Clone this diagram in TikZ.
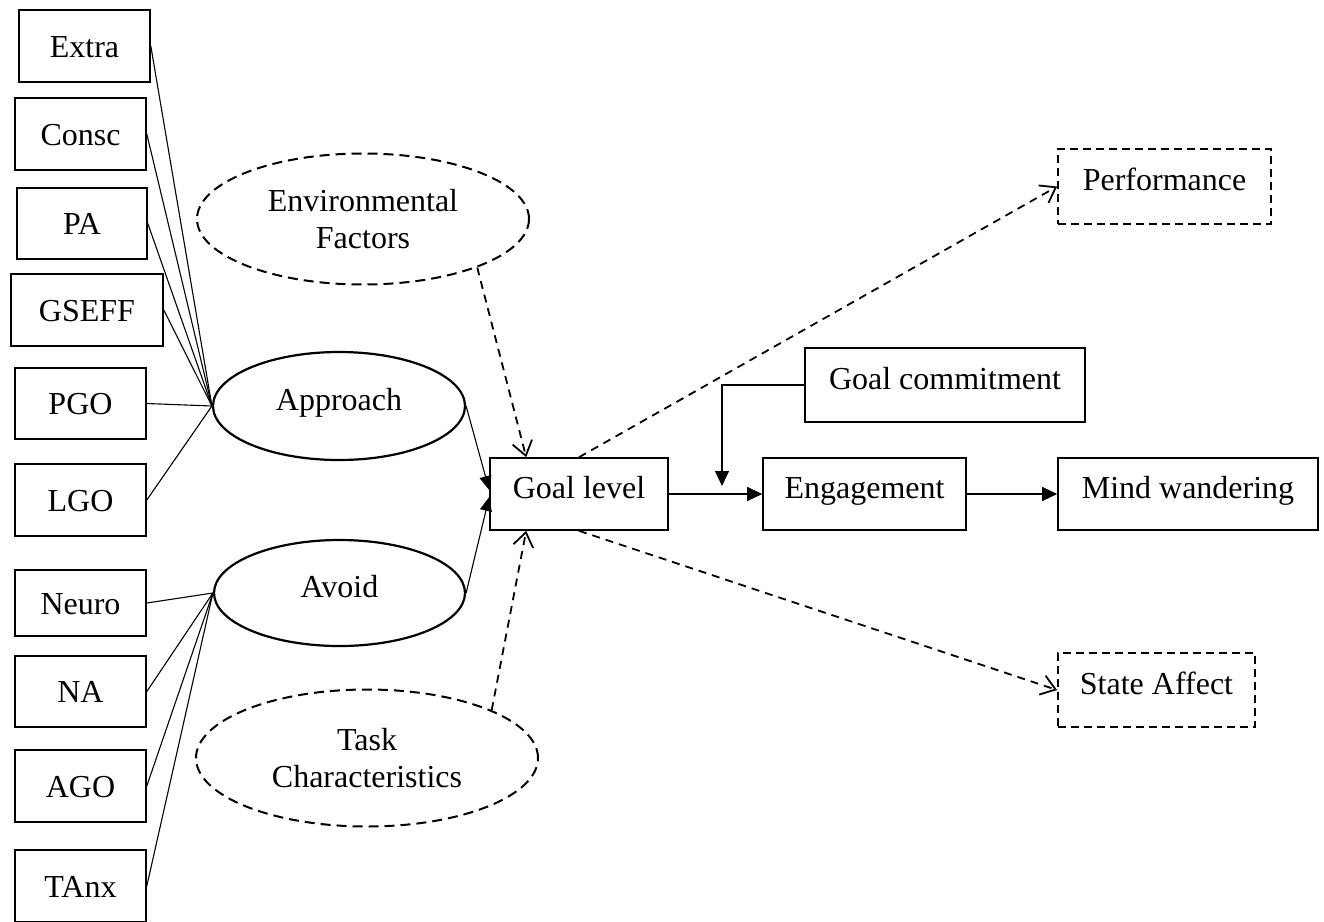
\documentclass[tikz,border=0pt]{standalone}
\usepackage{fontspec}
\setmainfont{Liberation Serif}
\usetikzlibrary{arrows.meta,shapes.geometric}
\begin{document}
\begin{tikzpicture}[x=1pt,y=-1pt,
  font=\fontsize{32}{37}\selectfont,
  box/.style={draw,line width=1.6pt,inner sep=0pt,text height=26pt,text depth=4pt},
  rbox/.style={draw,line width=1.6pt,inner sep=0pt,text height=18pt,text depth=10pt},
  dbox/.style={rbox,line width=1.8pt,dash pattern=on 8pt off 5pt},
  oval/.style={draw,ellipse,line width=2.2pt,inner sep=0pt,text height=18pt,text depth=10pt},
  doval/.style={draw,ellipse,line width=2pt,inner sep=0pt,align=center,dash pattern=on 10pt off 6pt},
  link/.style={line width=1.1pt},
  solidarrow/.style={line width=1.1pt,-{Triangle[length=15pt,width=14pt]}},
  smallarrow/.style={line width=1.1pt,-{Triangle[length=14pt,width=12pt]}},
  dasharrow/.style={line width=1.8pt,dash pattern=on 8pt off 6pt,
    -{Straight Barb[length=14pt,width=20pt,line width=1.8pt]}}]
\useasboundingbox (0,0) rectangle (1324,921);

% trait measures on the left
\node[box,minimum width=131pt,minimum height=72pt] (extra) at (84.5,46) {Extra};
\node[box,minimum width=131pt,minimum height=72pt] (consc) at (80.5,134) {Consc};
\node[box,minimum width=130pt,minimum height=71pt] (pa) at (82,223.5) {PA};
\node[box,minimum width=152pt,minimum height=72pt] (gseff) at (87,310) {GSEFF};
\node[box,minimum width=131pt,minimum height=71pt] (pgo) at (80.5,403.5) {PGO};
\node[box,minimum width=131pt,minimum height=72pt] (lgo) at (80.5,500) {LGO};
\node[box,minimum width=131pt,minimum height=66pt] (neuro) at (80.5,603) {Neuro};
\node[box,minimum width=131pt,minimum height=71pt] (na) at (80.5,691.5) {NA};
\node[box,minimum width=131pt,minimum height=72pt] (ago) at (80.5,786) {AGO};
\node[box,minimum width=131pt,minimum height=72pt] (tanx) at (80.5,886) {TAnx};

% latent factors
\node[oval,minimum width=252pt,minimum height=108pt] (app) at (339,406) {Approach};
\node[oval,minimum width=251pt,minimum height=106pt] (avo) at (339.5,593) {Avoid};

% contextual influences
\node[doval,minimum width=332pt,minimum height=131pt] (env) at (363,219) {Environmental\\Factors};
\node[doval,minimum width=342pt,minimum height=137pt] (task) at (367,758) {Task\\Characteristics};

% goal process chain
\node[rbox,minimum width=178pt,minimum height=72pt] (goal) at (579,494) {Goal level};
\node[rbox,minimum width=203pt,minimum height=72pt] (eng) at (864.5,494) {Engagement};
\node[rbox,minimum width=260pt,minimum height=72pt] (mind) at (1188,494) {Mind wandering};
\node[rbox,minimum width=280pt,minimum height=74pt] (gc) at (945,385) {Goal commitment};
\node[dbox,minimum width=213pt,minimum height=75pt] (perf) at (1164.5,186.5) {Performance};
\node[dbox,minimum width=197pt,minimum height=74pt] (aff) at (1156.5,690) {State Affect};

\coordinate (gcend) at (722,486);

% indicator links
\foreach \n in {extra,consc,pa,gseff,pgo,lgo}
  \draw[link] (\n.east) -- (app.west);
\foreach \n in {neuro,na,ago,tanx}
  \draw[link] (\n.east) -- (avo.west);

% paths into goal level
\draw[smallarrow] (app.east) -- ([yshift=4pt]goal.west);
\draw[smallarrow] (avo.east) -- ([yshift=-3pt]goal.west);
\draw[dasharrow] (env.-23) -- ([xshift=37pt]goal.north west);
\draw[dasharrow] (task.21.8) -- ([xshift=37pt]goal.south west);

% outcomes
\draw[solidarrow] (goal.east) -- (eng.west);
\draw[solidarrow] (eng.east) -- (mind.west);
\draw[solidarrow] (gc.west) -| (gcend);
\draw[dasharrow] (goal.north) -- (perf.west);
\draw[dasharrow] (goal.south) -- (aff.west);
\end{tikzpicture}
\end{document}
